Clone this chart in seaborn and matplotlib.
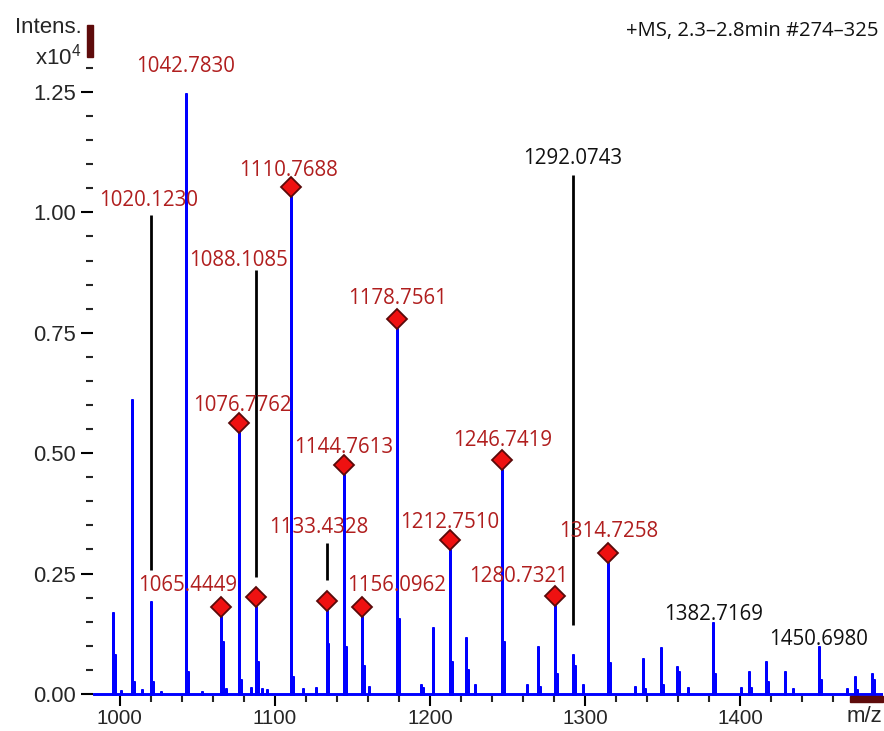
import numpy as np
import pandas as pd
import matplotlib
matplotlib.use("Agg")
import matplotlib.pyplot as plt
import matplotlib.transforms as mtransforms
from matplotlib.patches import Rectangle
from matplotlib.ticker import MultipleLocator, FixedLocator, FormatStrFormatter
import seaborn as sns

# ---------------------------------------------------------------------------
# Centroided peak list: m/z and intensity (x10^4 counts)
# ---------------------------------------------------------------------------
peak_mz = [
    996.0, 997.2, 1001.0, 1008.2, 1009.4, 1014.5, 1020.1230, 1021.3, 1027.0,
    1042.7830, 1044.0, 1053.0, 1065.4449, 1066.6, 1068.5, 1076.7762, 1078.0,
    1084.5, 1088.1085, 1089.3, 1091.6, 1095.0, 1110.7688, 1112.0, 1118.5,
    1126.4, 1133.4328, 1134.6, 1144.7613, 1146.0, 1156.0962, 1157.3, 1160.8,
    1178.7561, 1180.0, 1194.5, 1195.5, 1201.8, 1212.7510, 1214.0, 1223.1,
    1224.3, 1229.1, 1246.7419, 1248.0, 1262.9, 1269.5, 1270.7, 1280.7321,
    1282.0, 1292.0743, 1293.3, 1298.4, 1314.7258, 1316.0, 1332.2, 1337.5,
    1338.7, 1348.7, 1350.0, 1359.4, 1360.6, 1366.5, 1382.7169, 1384.0,
    1400.5, 1405.8, 1407.0, 1416.6, 1417.8, 1428.8, 1434.1, 1450.6980,
    1452.0, 1468.6, 1474.0, 1475.2, 1485.1, 1486.3,
]
peak_int = [
    0.168, 0.080, 0.006, 0.610, 0.025, 0.008, 0.190, 0.024, 0.005,
    1.245, 0.045, 0.005, 0.160, 0.108, 0.010, 0.542, 0.028,
    0.012, 0.181, 0.067, 0.010, 0.008, 1.031, 0.036, 0.010,
    0.012, 0.173, 0.104, 0.455, 0.098, 0.160, 0.059, 0.015,
    0.758, 0.156, 0.018, 0.012, 0.138, 0.299, 0.067, 0.116,
    0.050, 0.019, 0.465, 0.107, 0.018, 0.098, 0.015, 0.183,
    0.042, 0.081, 0.059, 0.018, 0.272, 0.064, 0.015, 0.073,
    0.010, 0.095, 0.019, 0.055, 0.045, 0.012, 0.147, 0.042,
    0.012, 0.046, 0.012, 0.067, 0.024, 0.045, 0.010, 0.097,
    0.029, 0.010, 0.036, 0.008, 0.042, 0.028,
]

# Compounds flagged with a marker (red diamond)
marked_mz = [1065.4449, 1076.7762, 1088.1085, 1110.7688, 1133.4328, 1144.7613,
             1156.0962, 1178.7561, 1212.7510, 1246.7419, 1280.7321, 1314.7258]
# Red-labelled peaks without a marker
red_only_mz = [1020.1230, 1042.7830]
# Black-labelled peaks
black_mz = [1292.0743, 1382.7169, 1450.6980]

# Label centres (m/z, intensity) where the text is placed
label_xy = {
    1020.1230: (1018.8, 1.024),
    1042.7830: (1042.8, 1.302),
    1065.4449: (1044.0, 0.226),
    1076.7762: (1079.3, 0.598),
    1088.1085: (1076.7, 0.901),
    1110.7688: (1108.6, 1.086),
    1133.4328: (1128.2, 0.345),
    1144.7613: (1144.3, 0.511),
    1156.0962: (1178.6, 0.226),
    1178.7561: (1179.1, 0.822),
    1212.7510: (1212.6, 0.356),
    1246.7419: (1246.8, 0.527),
    1280.7321: (1257.3, 0.244),
    1314.7258: (1315.1, 0.338),
    1292.0743: (1291.9, 1.112),
    1382.7169: (1382.9, 0.164),
    1450.6980: (1450.7, 0.114),
}
# Leader lines (upper, lower intensity) drawn at the labelled m/z
leader = {
    1020.1230: (0.995, 0.257),
    1088.1085: (0.880, 0.243),
    1133.4328: (0.313, 0.237),
    1292.0743: (1.078, 0.143),
}

# ---------------------------------------------------------------------------
sns.set_style("white")
plt.rcParams["font.family"] = ["Liberation Sans", "DejaVu Sans"]
plt.rcParams["mathtext.fontset"] = "custom"
plt.rcParams["mathtext.rm"] = "Liberation Sans"

W, H = 884, 731
fig = plt.figure(figsize=(W / 100, H / 100), dpi=100)
ax = fig.add_axes([93 / W, (H - 696) / H, (883 - 93) / W, (696 - 25) / H])

x0, x1 = 982.9, 1492.0
y0, y1 = -0.0042, 1.389

# profile trace: baseline with a vertical stick at every peak
order = np.argsort(peak_mz)
xs, ys = [x0], [0.0]
for i in order:
    m, v = peak_mz[i], peak_int[i]
    xs += [m, m, m]
    ys += [0.0, v, 0.0]
xs.append(x1)
ys.append(0.0)
profile = pd.DataFrame({"mz": xs, "intensity": ys})
sns.lineplot(data=profile, x="mz", y="intensity", sort=False, estimator=None,
             color="#0000ff", lw=2.1, ax=ax, zorder=3)

lookup = dict(zip(peak_mz, peak_int))

# diamond markers, sitting just above the peak apex
mark_tr = mtransforms.offset_copy(ax.transData, fig=fig, x=0, y=10, units="dots")
ax.plot(marked_mz, [lookup[m] for m in marked_mz], ls="none", marker="D",
        ms=10.5, mfc="#ee1111", mec="#5a0a0a", mew=1.3, transform=mark_tr,
        zorder=5, clip_on=False)

red = "#b01e1e"
label_font = ["Open Sans", "DejaVu Sans"]
for m in marked_mz + red_only_mz + black_mz:
    tx, ty = label_xy[m]
    col = "#111111" if m in black_mz else red
    ax.text(tx, ty, f"{m:.4f}", color=col, fontsize=14.8, family=label_font,
            ha="center", va="center", zorder=6, clip_on=False)

for m, (top, bot) in leader.items():
    ax.plot([m, m], [top, bot], color="black", lw=2.0, zorder=4,
            solid_capstyle="butt")

# axes, ticks
ax.set_xlim(x0, x1)
ax.set_ylim(y0, y1)
for s in ax.spines.values():
    s.set_visible(False)
ax.xaxis.set_major_locator(MultipleLocator(100))
ax.xaxis.set_minor_locator(MultipleLocator(20))
ax.yaxis.set_major_locator(FixedLocator([0, 0.25, 0.5, 0.75, 1.0, 1.25]))
ax.yaxis.set_minor_locator(FixedLocator(np.round(np.arange(0, 1.31, 0.05), 2)))
ax.yaxis.set_major_formatter(FormatStrFormatter("%.2f"))
ax.tick_params(axis="y", which="major", length=8.6, width=1.5, pad=3.6,
               labelsize=15.8, color="black", left=True)
ax.tick_params(axis="y", which="minor", length=5.0, width=1.5, left=True)
ax.tick_params(axis="x", which="major", length=7.0, width=1.5, pad=2.2,
               labelsize=14.8, color="black", bottom=True)
ax.tick_params(axis="x", which="minor", length=4.2, width=1.5, bottom=True)
ax.set_xlabel("")
ax.set_ylabel("")

# scroll indicators
fig.add_artist(Rectangle((87 / W, (H - 57) / H), 6 / W, 32 / H,
                         transform=fig.transFigure, color="#5e0b0b", zorder=10))
fig.add_artist(Rectangle((850 / W, (H - 702) / H), 33 / W, 6 / H,
                         transform=fig.transFigure, color="#5e0b0b", zorder=10))

# header and axis captions
fig.text(82 / W, (H - 33) / H, "Intens.", ha="right", va="baseline", fontsize=16)
fig.text(81 / W, (H - 65) / H, r"x10$^{4}$", ha="right", va="baseline", fontsize=16)
fig.text(882 / W, (H - 722) / H, "m/z", ha="right", va="baseline", fontsize=16)
fig.text(878 / W, (H - 36) / H, "+MS, 2.3\u20132.8min #274\u2013325", ha="right",
         va="baseline", fontsize=14.6, family=label_font, color="#111111")

fig.savefig("out.png", dpi=100)
